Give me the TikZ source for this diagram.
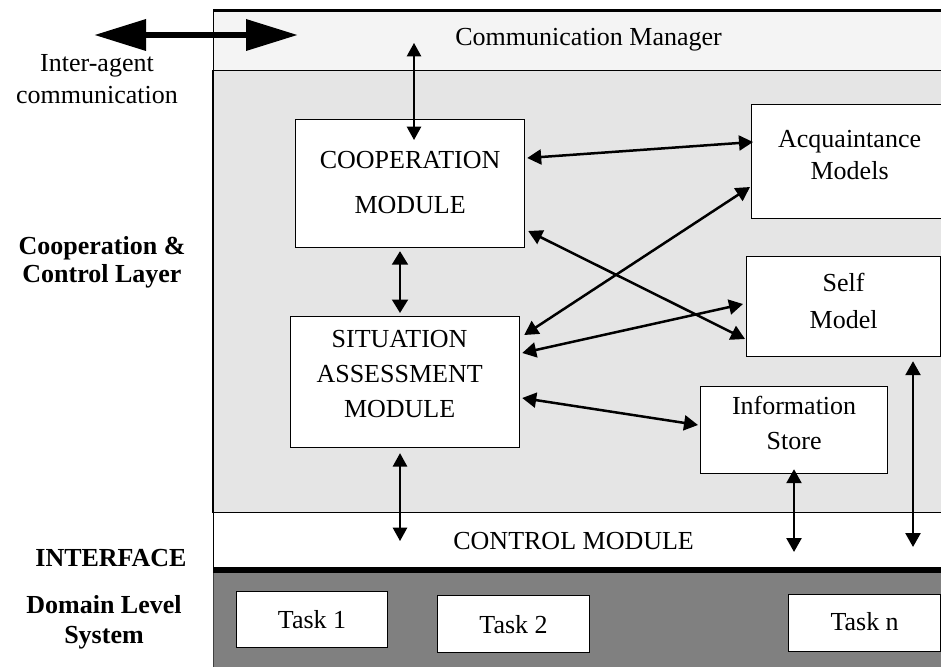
\documentclass[tikz,border=0pt]{standalone}
\usepackage{fontspec}
\setmainfont{Liberation Serif}
\usetikzlibrary{arrows.meta}
\definecolor{cmfill}{HTML}{F4F4F4}
\definecolor{layerfill}{HTML}{E5E5E5}
\definecolor{domfill}{HTML}{808080}
% dx, raise, baselineskip, lines
\newcommand{\btext}[4]{{\fontsize{26}{#3}\selectfont\raisebox{#2}[\height][\depth]{\hspace*{#1}\begin{tabular}{@{}c@{}}#4\end{tabular}\hspace*{-#1}}}}
% baselineskip, lines (first line baseline = node base)
\newcommand{\ltext}[2]{{\fontsize{26}{#1}\selectfont\begin{tabular}[t]{@{}c@{}}#2\end{tabular}}}
\tikzset{
  box/.style={draw=black, line width=1.2pt, fill=white, inner sep=0pt, anchor=north west},
  band/.style={draw=black, line width=1.2pt, inner sep=0pt, anchor=north west, minimum width=750pt},
  thinarr/.style={line width=1.5pt, {Triangle[length=13.5pt,width=14.5pt]}-{Triangle[length=13.5pt,width=14.5pt]}},
  midarr/.style={line width=2pt, {Triangle[length=13.5pt,width=16pt]}-{Triangle[length=13.5pt,width=16pt]}},
  thickarr/.style={line width=2.5pt, {Triangle[length=14pt,width=15pt]}-{Triangle[length=14pt,width=15pt]}},
  bigarr/.style={line width=6.7pt, {Triangle[length=52pt,width=30pt]}-{Triangle[length=52pt,width=30pt]}},
  lbl/.style={inner sep=0pt, anchor=base}
}
\begin{document}
\begin{tikzpicture}[x=1pt, y=-1pt]
\useasboundingbox (0,0) rectangle (941,666);
\clip (0,0) rectangle (941,666);
\fill[white] (0,0) rectangle (941,666);

% layers
\node[band, fill=layerfill, minimum height=442pt] (ccl) at (213,70) {};
\draw[line width=2pt] (ccl.north west) -- (ccl.south west);
\node[band, fill=white, minimum height=55pt] (ctrl) at (213,512) {\btext{-15pt}{-3.5pt}{30pt}{CONTROL MODULE}};
\node[band, fill=domfill, draw=black!75, line width=1pt, minimum height=96pt] (dom) at (213,572) {};
\draw[line width=5.5pt] ([yshift=-2.5pt]ctrl.south west) -- ([yshift=-2.5pt]ctrl.south east);
\node[band, fill=cmfill, minimum height=59pt] (cm) at (213,11) {\btext{0pt}{1.5pt}{30pt}{Communication Manager}};
\draw[line width=3pt] (cm.north west) -- (cm.north east);

% boxes
\node[box, minimum width=229pt, minimum height=128pt] (coop) at (295,119) {\btext{0pt}{1.5pt}{45pt}{COOPERATION\\MODULE}};
\node[box, minimum width=229pt, minimum height=131pt] (sit) at (290,316) {\btext{-5.5pt}{6.5pt}{35pt}{SITUATION\\ASSESSMENT\\MODULE}};
\node[box, minimum width=196pt, minimum height=114pt] (acq) at (751,104) {\btext{0pt}{4.4pt}{32pt}{Acquaintance\\Models}};
\node[box, minimum width=194pt, minimum height=100pt] (self) at (746,256) {\btext{0pt}{4pt}{36.5pt}{Self\\Model}};
\node[box, minimum width=187pt, minimum height=87pt] (info) at (700,386) {\btext{0pt}{5pt}{35pt}{Information\\Store}};
\node[box, minimum width=151pt, minimum height=56pt] (task1) at (236,591) {\btext{0pt}{-3pt}{30pt}{Task 1}};
\node[box, minimum width=152pt, minimum height=57pt] (task2) at (437,595) {\btext{0pt}{-3.5pt}{30pt}{Task 2}};
\node[box, minimum width=152pt, minimum height=57pt] (taskn) at (788,594) {\btext{0pt}{-1.5pt}{30pt}{Task n}};

% left labels
\node[lbl] (ia) at (97,72) {\ltext{32pt}{Inter-agent\\communication}};
\node[lbl, font=\bfseries] (cclbl) at (102,254.5) {\ltext{28pt}{Cooperation \&\\Control Layer}};
\node[lbl, font=\bfseries] (iflbl) at (111,566.7) {\ltext{30pt}{INTERFACE}};
\node[lbl, font=\bfseries] (dlbl) at (104,613) {\ltext{30pt}{Domain Level\\System}};

% inter-agent arrow
\coordinate (iaL) at (94,35);
\draw[bigarr] (iaL) -- ([shift={(85,24)}]cm.north west);

% connectors
\draw[thinarr] ([shift={(201,32)}]cm.north west) -- ([shift={(119,21)}]coop.north west);
\draw[midarr] ([shift={(105,3)}]coop.south west) -- ([shift={(110,-3)}]sit.north west);
\draw[thinarr] ([shift={(110,5)}]sit.south west) -- ([shift={(187,29)}]ctrl.north west);
\draw[thickarr] ([shift={(2,39)}]coop.north east) -- ([shift={(2,38)}]acq.north west);
\draw[thickarr] ([shift={(4,19)}]sit.north east) -- ([shift={(-1,83)}]acq.north west);
\draw[thickarr] ([shift={(3,112)}]coop.north east) -- ([shift={(-1,83)}]self.north west);
\draw[thickarr] ([shift={(2,37)}]sit.north east) -- ([shift={(-3,48)}]self.north west);
\draw[thickarr] ([shift={(2,82)}]sit.north east) -- ([shift={(-2,39)}]info.north west);
\draw[thickarr] ([shift={(94,-5)}]info.south west) -- ([shift={(581,40)}]ctrl.north west);
\draw[thickarr] ([shift={(167,4)}]self.south west) -- ([shift={(700,35)}]ctrl.north west);
\end{tikzpicture}
\end{document}
